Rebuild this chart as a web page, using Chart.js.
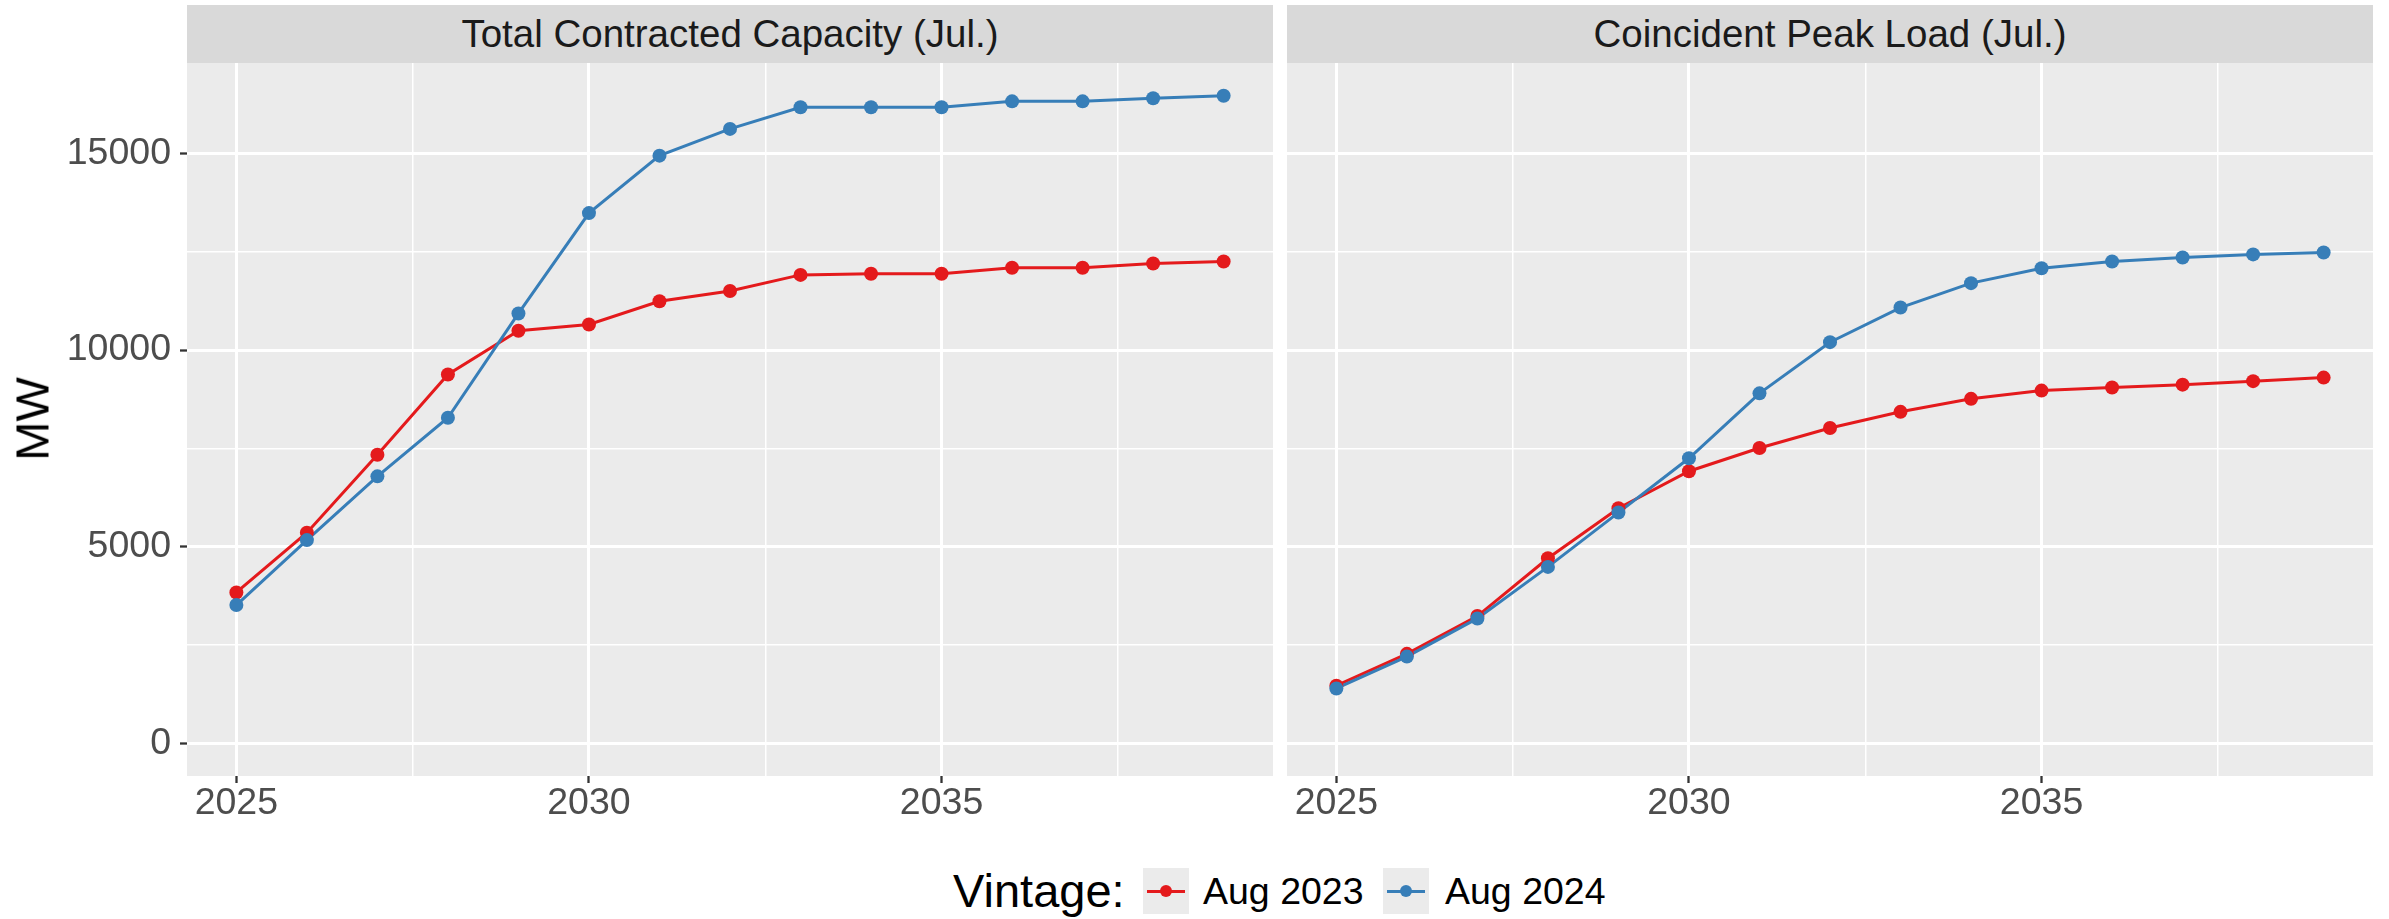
<!DOCTYPE html>
<html>
<head>
<meta charset="utf-8">
<script src="https://cdn.jsdelivr.net/npm/chart.js@4.4.0/dist/chart.umd.min.js"></script>
<style>
  html, body { margin: 0; padding: 0; background: #fff; }
  body { width: 2389px; height: 919px; position: relative; overflow: hidden;
         font-family: 'Liberation Sans', Arial, sans-serif; }
  .panel { position: absolute; top: 0; height: 830px; }
  .strip { position: absolute; top: 5px; height: 58px; width: 1086px; background: #D9D9D9;
           color: #1A1A1A; font-size: 38.5px; line-height: 58px; text-align: center; }
  .ytitle { position: absolute; left: 32px; top: 419px; font-size: 47px; line-height: 47px;
            color: #000; transform: translate(-50%, -50%) rotate(-90deg); white-space: nowrap; }
  .legtitle { position: absolute; left: 953px; top: 867px; font-size: 47px; line-height: 47px; color: #000; }
  .key { position: absolute; top: 868px; width: 46px; height: 46px; background: #EBEBEB; }
  .key .ln { position: absolute; left: 4px; width: 38px; top: 21.5px; height: 3px; }
  .key .dot { position: absolute; left: 17px; top: 17px; width: 12px; height: 12px; border-radius: 50%; }
  .leglab { position: absolute; top: 873px; font-size: 37.5px; line-height: 37.5px; color: #000; white-space: nowrap; }
</style>
</head>
<body>
<div class="panel" style="left:0;width:1273px"><canvas id="capChart"></canvas></div>
<div class="panel" style="left:1287px;width:1086px"><canvas id="peakChart"></canvas></div>
<div class="strip" id="strip1" style="left:187px"></div>
<div class="strip" id="strip2" style="left:1287px"></div>
<div class="ytitle">MW</div>
<div id="legend"></div>

<script>
// data
const YEARS = [2025, 2026, 2027, 2028, 2029, 2030, 2031, 2032, 2033, 2034, 2035, 2036, 2037, 2038, 2039];
const CAP_AUG2023 = [3840, 5360, 7340, 9380, 10490, 10650, 11240, 11500, 11910, 11940, 11940, 12090, 12090, 12200, 12250];
const CAP_AUG2024 = [3520, 5170, 6790, 8280, 10930, 13480, 14940, 15620, 16170, 16170, 16170, 16320, 16320, 16400, 16460];
const PEAK_AUG2023 = [1470, 2280, 3240, 4710, 5980, 6920, 7510, 8020, 8430, 8760, 8970, 9050, 9120, 9210, 9300];
const PEAK_AUG2024 = [1400, 2210, 3180, 4490, 5870, 7250, 8900, 10200, 11080, 11700, 12080, 12250, 12350, 12430, 12480];

const SERIES_NAMES = ["Aug 2023", "Aug 2024"];
const SERIES_COLORS = ["#E41A1C", "#377EB8"];
const PANEL_TITLES = ["Total Contracted Capacity (Jul.)", "Coincident Peak Load (Jul.)"];
const LEGEND_TITLE = "Vintage:";

const X_TICKS = [2025, 2027.5, 2030, 2032.5, 2035, 2037.5];
const X_TICK_LABELS = ["2025", "", "2030", "", "2035", ""];
const Y_TICKS = [0, 2500, 5000, 7500, 10000, 12500, 15000];
const Y_TICK_LABELS = ["0", "", "5000", "", "10000", "", "15000"];

const X_MIN = 2024.3, X_MAX = 2039.7;
const Y_MIN = -824, Y_MAX = 17294;

Chart.defaults.font.family = "'Liberation Sans', Arial, sans-serif";

// grey panel background like ggplot
const panelBg = {
  id: "panelBg",
  beforeDraw(chart) {
    const { ctx, chartArea: a } = chart;
    ctx.save();
    ctx.fillStyle = "#EBEBEB";
    ctx.fillRect(a.left, a.top, a.right - a.left, a.bottom - a.top);
    ctx.restore();
  }
};

function makeDatasets(a, b) {
  const series = [a, b];
  const sets = [];
  // lines first, then points on top (ggplot layer order)
  series.forEach((vals, i) => {
    sets.push({
      label: SERIES_NAMES[i],
      data: YEARS.map((x, j) => ({ x: x, y: vals[j] })),
      borderColor: SERIES_COLORS[i],
      borderWidth: 3,
      pointRadius: 0,
      showLine: true,
      tension: 0,
      order: 3 - i
    });
  });
  series.forEach((vals, i) => {
    sets.push({
      label: SERIES_NAMES[i],
      data: YEARS.map((x, j) => ({ x: x, y: vals[j] })),
      backgroundColor: SERIES_COLORS[i],
      borderColor: SERIES_COLORS[i],
      pointRadius: 7,
      pointBorderWidth: 0,
      showLine: false,
      order: 1 - i
    });
  });
  return sets;
}

const isMinorX = v => X_TICK_LABELS[X_TICKS.indexOf(v)] === "";
const isMinorY = v => Y_TICK_LABELS[Y_TICKS.indexOf(v)] === "";

function makeChart(id, a, b, showY) {
  const ctx = document.getElementById(id).getContext("2d");
  return new Chart(ctx, {
    type: "line",
    data: { datasets: makeDatasets(a, b) },
    plugins: [panelBg],
    options: {
      responsive: true,
      maintainAspectRatio: false,
      animation: false,
      devicePixelRatio: 1,
      layout: { autoPadding: false, padding: { top: 63, left: 0, right: 0, bottom: 0 } },
      plugins: { legend: { display: false }, tooltip: { enabled: false } },
      scales: {
        x: {
          type: "linear",
          min: X_MIN,
          max: X_MAX,
          afterBuildTicks: ax => { ax.ticks = X_TICKS.map(v => ({ value: v })); },
          afterFit: ax => { ax.height = 54; ax.paddingLeft = 0; ax.paddingRight = 0; },
          border: { display: false },
          grid: {
            color: "#FFFFFF",
            lineWidth: c => (c.tick && isMinorX(c.tick.value)) ? 1.5 : 3,
            tickLength: 7,
            tickWidth: 2.3,
            tickColor: c => (c.tick && isMinorX(c.tick.value)) ? "rgba(0,0,0,0)" : "#333333"
          },
          ticks: {
            callback: v => X_TICK_LABELS[X_TICKS.indexOf(v)],
            color: "#4D4D4D",
            font: { size: 37.5, lineHeight: 1 },
            padding: 2,
            maxRotation: 0,
            autoSkip: false
          }
        },
        y: {
          min: Y_MIN,
          max: Y_MAX,
          afterBuildTicks: ax => { ax.ticks = Y_TICKS.map(v => ({ value: v })); },
          afterFit: ax => { ax.width = showY ? 187 : 0; ax.paddingTop = 0; ax.paddingBottom = 0; },
          border: { display: false },
          grid: {
            color: "#FFFFFF",
            lineWidth: c => (c.tick && isMinorY(c.tick.value)) ? 1.5 : 3,
            drawTicks: showY,
            tickLength: 7,
            tickWidth: 2.3,
            tickColor: c => (c.tick && isMinorY(c.tick.value)) ? "rgba(0,0,0,0)" : "#333333"
          },
          ticks: {
            display: showY,
            callback: v => Y_TICK_LABELS[Y_TICKS.indexOf(v)],
            color: "#4D4D4D",
            font: { size: 37.5, lineHeight: 1 },
            padding: 9,
            autoSkip: false
          }
        }
      }
    }
  });
}

function renderLegend() {
  const el = document.getElementById("legend");
  const keyLeft = [1143, 1383];
  const labLeft = [1203, 1445];
  let html = `<div class="legtitle">${LEGEND_TITLE}</div>`;
  SERIES_NAMES.forEach((name, i) => {
    html += `<div class="key" style="left:${keyLeft[i]}px">` +
      `<div class="ln" style="background:${SERIES_COLORS[i]}"></div>` +
      `<div class="dot" style="background:${SERIES_COLORS[i]}"></div></div>` +
      `<div class="leglab" style="left:${labLeft[i]}px">${name}</div>`;
  });
  el.innerHTML = html;
}

document.getElementById("strip1").textContent = PANEL_TITLES[0];
document.getElementById("strip2").textContent = PANEL_TITLES[1];
makeChart("capChart", CAP_AUG2023, CAP_AUG2024, true);
makeChart("peakChart", PEAK_AUG2023, PEAK_AUG2024, false);
renderLegend();
</script>
</body>
</html>
